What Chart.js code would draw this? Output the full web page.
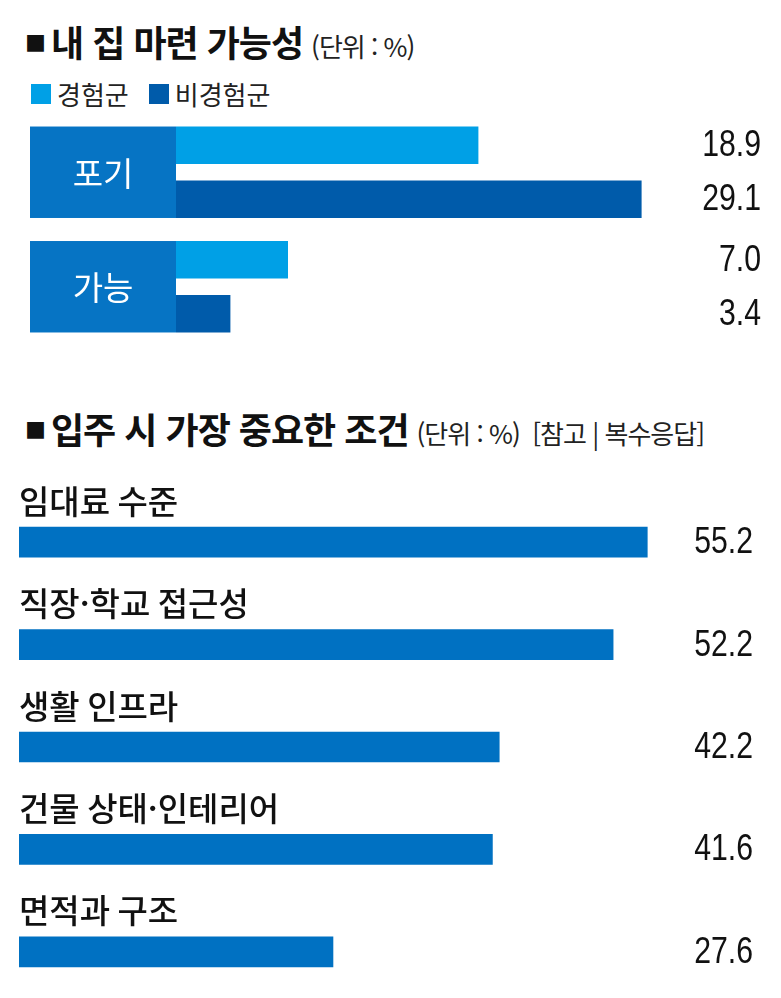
<!DOCTYPE html>
<html lang="ko">
<head>
<meta charset="utf-8">
<title>내 집 마련 가능성 · 입주 시 가장 중요한 조건</title>
<script src="https://cdn.jsdelivr.net/npm/chart.js@4.4.1/dist/chart.umd.min.js"></script>
<style>
  html, body { margin: 0; padding: 0; background: #fff; overflow: hidden; }
  body { width: 781px; height: 998px; position: relative; font-family: 'Noto Sans CJK KR', sans-serif; color: #111; }
  .title { position: absolute; left: 25px; white-space: nowrap; font-weight: 700; font-size: 36px; line-height: 1; letter-spacing: -1px; }
  .title .sq { font-size: 21px; vertical-align: 6px; margin-right: 6px; }
  .title .unit { font-size: 26px; font-weight: 400; letter-spacing: -1px; margin-left: 8px; color: #222; }
  #title1 { top: 23px; }
  #title2 { top: 410px; }
  .legend { position: absolute; left: 31px; top: 78px; font-size: 26px; line-height: 32px; display: flex; color: #222; }
  .legend span { display: flex; align-items: center; margin-right: 20px; }
  .legend i { display: inline-block; width: 20px; height: 20px; margin-right: 6px; }
  #box1 { position: absolute; left: 0; top: 115px; width: 781px; height: 229px; }
  #box2 { position: absolute; left: 0; top: 451px; width: 781px; height: 552px; }
</style>
</head>
<body>
<div class="title" id="title1"><span class="sq">■</span>내 집 마련 가능성<span class="unit">(단위 : %)</span></div>
<div class="legend" id="legend1"></div>
<div id="box1"><canvas id="chart1"></canvas></div>

<div class="title" id="title2"><span class="sq">■</span>입주 시 가장 중요한 조건<span class="unit">(단위 : %)&nbsp;&nbsp;[참고 | 복수응답]</span></div>
<div id="box2"><canvas id="chart2"></canvas></div>

<script>
'use strict';

// 내 집 마련 가능성
const groupLabels = ['포기', '가능'];
const seriesNames = ['경험군', '비경험군'];
const experienced = [18.9, 7.0];
const inexperienced = [29.1, 3.4];

// 입주 시 가장 중요한 조건
const conditionLabels = ['임대료 수준', '직장·학교 접근성', '생활 인프라', '건물 상태·인테리어', '면적과 구조'];
const conditionValues = [55.2, 52.2, 42.2, 41.6, 27.6];

const lightBlue = '#00a0e6';
const darkBlue = '#005baa';
const boxBlue = '#0674c4';
const barBlue = '#0071c2';
const numFont = "36px 'Liberation Sans', Arial, sans-serif";
const korFont = "'Noto Sans CJK KR', sans-serif";

// legend for the top chart
const legend1 = document.getElementById('legend1');
[lightBlue, darkBlue].forEach(function(c, i) {
  const s = document.createElement('span');
  const sw = document.createElement('i');
  sw.style.background = c;
  s.appendChild(sw);
  s.appendChild(document.createTextNode(seriesNames[i]));
  legend1.appendChild(s);
});

// numbers at the right edge, one per bar (squeezed, the original uses a narrow face)
const valueLabels = {
  id: 'valueLabels',
  afterDatasetsDraw(chart, args, opts) {
    const ctx = chart.ctx;
    const squeeze = 0.84;
    chart.data.datasets.forEach(function(ds, i) {
      chart.getDatasetMeta(i).data.forEach(function(bar, j) {
        ctx.save();
        ctx.translate(chart.width - opts.right, bar.y + 1);
        ctx.scale(squeeze, 1);
        ctx.font = numFont;
        ctx.fillStyle = '#111';
        ctx.textAlign = 'right';
        ctx.textBaseline = 'middle';
        ctx.fillText(ds.data[j].toFixed(1), 0, 0);
        ctx.restore();
      });
    });
  }
};

// blue boxes with the group name, left of the bars
const groupBoxes = {
  id: 'groupBoxes',
  beforeDraw(chart) {
    const ctx = chart.ctx;
    const y = chart.scales.y;
    const x0 = chart.scales.x.getPixelForValue(0);
    const first = chart.getDatasetMeta(0).data;
    const last = chart.getDatasetMeta(chart.data.datasets.length - 1).data;
    ctx.save();
    first.forEach(function(bar, i) {
      const top = bar.y - bar.height / 2;
      const bottom = last[i].y + last[i].height / 2;
      ctx.fillStyle = boxBlue;
      ctx.fillRect(y.left, top, x0 - y.left, bottom - top);
      ctx.fillStyle = '#fff';
      ctx.font = '400 33px ' + korFont;
      ctx.textAlign = 'center';
      ctx.textBaseline = 'middle';
      ctx.fillText(chart.data.labels[i], (y.left + x0) / 2, (top + bottom) / 2 + 1);
    });
    ctx.restore();
  }
};

// category names above each bar
const topLabels = {
  id: 'topLabels',
  afterDatasetsDraw(chart) {
    const ctx = chart.ctx;
    ctx.save();
    ctx.font = '500 33px ' + korFont;
    ctx.fillStyle = '#111';
    ctx.textAlign = 'left';
    ctx.textBaseline = 'alphabetic';
    chart.getDatasetMeta(0).data.forEach(function(bar, i) {
      ctx.fillText(chart.data.labels[i], chart.chartArea.left, bar.y - bar.height / 2 - 13);
    });
    ctx.restore();
  }
};

new Chart(document.getElementById('chart1'), {
  type: 'bar',
  data: {
    labels: groupLabels,
    datasets: [
      { label: seriesNames[0], data: experienced, backgroundColor: lightBlue },
      { label: seriesNames[1], data: inexperienced, backgroundColor: darkBlue }
    ]
  },
  options: {
    indexAxis: 'y',
    responsive: true,
    maintainAspectRatio: false,
    animation: false,
    categoryPercentage: 0.943,
    barPercentage: 0.694,
    layout: { padding: { left: 30, right: 81, top: 0, bottom: 0 } },
    scales: {
      x: { display: false, min: 0, max: 32.75 },
      y: {
        display: true,
        ticks: { display: false },
        grid: { display: false, drawTicks: false },
        border: { display: false },
        afterFit(scale) { scale.width = 146; }
      }
    },
    plugins: {
      legend: { display: false },
      tooltip: { enabled: false },
      valueLabels: { right: 20 }
    }
  },
  plugins: [groupBoxes, valueLabels]
});

new Chart(document.getElementById('chart2'), {
  type: 'bar',
  data: {
    labels: conditionLabels,
    datasets: [
      { label: '응답 비율', data: conditionValues, backgroundColor: barBlue }
    ]
  },
  options: {
    indexAxis: 'y',
    responsive: true,
    maintainAspectRatio: false,
    animation: false,
    categoryPercentage: 1,
    barPercentage: 0.3,
    layout: { padding: { left: 19, right: 81, top: 40, bottom: 0 } },
    scales: {
      x: { display: false, min: 0, max: 59.8 },
      y: { display: false }
    },
    plugins: {
      legend: { display: false },
      tooltip: { enabled: false },
      valueLabels: { right: 28 }
    }
  },
  plugins: [topLabels, valueLabels]
});
</script>
</body>
</html>
